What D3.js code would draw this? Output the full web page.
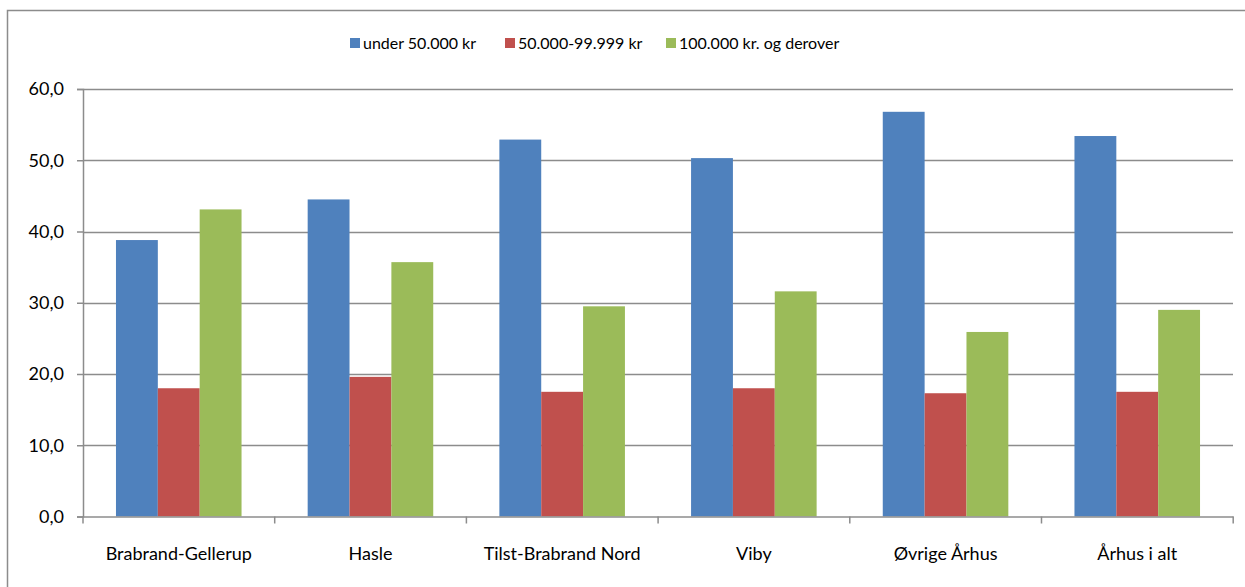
<!DOCTYPE html>
<html>
<head>
<meta charset="utf-8">
<script src="https://cdn.jsdelivr.net/npm/d3@7"></script>
<style>
  body { margin: 0; background: #fff; }
  svg { display: block; font-family: Lato, "Open Sans", sans-serif; }
</style>
</head>
<body>
<script>

// omraader og serier
const categories = ["Brabrand-Gellerup", "Hasle", "Tilst-Brabrand Nord", "Viby", "Øvrige Århus", "Århus i alt"];
const seriesNames = ["under 50.000 kr", "50.000-99.999 kr", "100.000 kr. og derover"];
const under50 = [38.8, 44.5, 52.9, 50.3, 56.8, 53.4];
const mellem = [18.0, 19.6, 17.5, 18.0, 17.3, 17.5];
const over100 = [43.1, 35.7, 29.5, 31.6, 25.9, 29.0];
const yTicks = [0, 10, 20, 30, 40, 50, 60];
const colors = ["#4f81bd", "#c0504d", "#9bbb59"];

const seriesValues = [under50, mellem, over100];

const width = 1245, height = 587;
const margin = {left: 83, right: 12, top: 89, bottom: 70};

const svg = d3.select("body").append("svg")
    .attr("width", width)
    .attr("height", height);

// ramme om diagrammet
svg.append("rect")
    .attr("x", 7.5).attr("y", 10.5)
    .attr("width", 1250).attr("height", 600)
    .attr("fill", "none")
    .attr("stroke", "#8c8c8c")
    .attr("stroke-width", 1.5);

const x = d3.scaleBand()
    .domain(categories)
    .range([margin.left, width - margin.right])
    .paddingInner(0.345)
    .paddingOuter(0.172);

const xSub = d3.scaleBand()
    .domain(d3.range(seriesNames.length))
    .range([0, x.bandwidth()]);

const y = d3.scaleLinear()
    .domain([0, 60])
    .range([height - margin.bottom - 0.5, margin.top]);

const fmt = d => d3.format(".1f")(d).replace(".", ",");

// gitterlinjer
svg.append("g")
    .selectAll("line")
    .data(yTicks.filter(d => d > 0))
    .join("line")
        .attr("x1", margin.left)
        .attr("x2", width - margin.right)
        .attr("y1", d => Math.round(y(d)) + 0.5)
        .attr("y2", d => Math.round(y(d)) + 0.5)
        .attr("stroke", "#8c8c8c")
        .attr("stroke-width", 1.5);

// soejler
const groups = svg.append("g")
    .selectAll("g")
    .data(categories)
    .join("g")
        .attr("transform", d => `translate(${x(d)},0)`);

groups.selectAll("rect")
    .data((c, i) => seriesValues.map((s, k) => ({k: k, v: s[i]})))
    .join("rect")
        .attr("x", d => xSub(d.k))
        .attr("width", xSub.bandwidth())
        .attr("y", d => y(d.v))
        .attr("height", d => y(0) - y(d.v))
        .attr("fill", d => colors[d.k]);

// y-akse
const yAxis = svg.append("g")
    .attr("transform", `translate(${margin.left},0)`)
    .call(d3.axisLeft(y).tickValues(yTicks).tickFormat(fmt).tickSize(6).tickPadding(13));
yAxis.select(".domain").attr("stroke", "#8c8c8c").attr("stroke-width", 1.5);
yAxis.selectAll(".tick line").attr("stroke", "#8c8c8c").attr("stroke-width", 1.5);
yAxis.selectAll(".tick text").attr("font-size", 18).attr("fill", "#000")
    .attr("font-family", "Lato, sans-serif");

// x-akse
const xAxis = svg.append("g")
    .attr("transform", `translate(0,${y(0)})`)
    .call(d3.axisBottom(x).tickSize(0).tickPadding(31));
xAxis.select(".domain").attr("stroke", "#8c8c8c").attr("stroke-width", 1.5);
xAxis.selectAll(".tick text").attr("font-size", 18).attr("fill", "#000")
    .attr("font-family", "Lato, sans-serif");

// smaa streger mellem kategorierne
const step = x.step();
svg.append("g")
    .selectAll("line")
    .data(d3.range(categories.length + 1))
    .join("line")
        .attr("x1", i => margin.left + i * step)
        .attr("x2", i => margin.left + i * step)
        .attr("y1", y(0))
        .attr("y2", y(0) + 7)
        .attr("stroke", "#8c8c8c")
        .attr("stroke-width", 1.5);

// forklaring
const legendX = [350, 505, 666];
const legend = svg.append("g")
    .selectAll("g")
    .data(seriesNames)
    .join("g")
        .attr("transform", (d, i) => `translate(${legendX[i]},38)`);

legend.append("rect")
    .attr("width", 10).attr("height", 10)
    .attr("fill", (d, i) => colors[i]);

legend.append("text")
    .attr("x", 13)
    .attr("y", 11)
    .attr("font-size", 16)
    .text(d => d);

</script>
</body>
</html>
